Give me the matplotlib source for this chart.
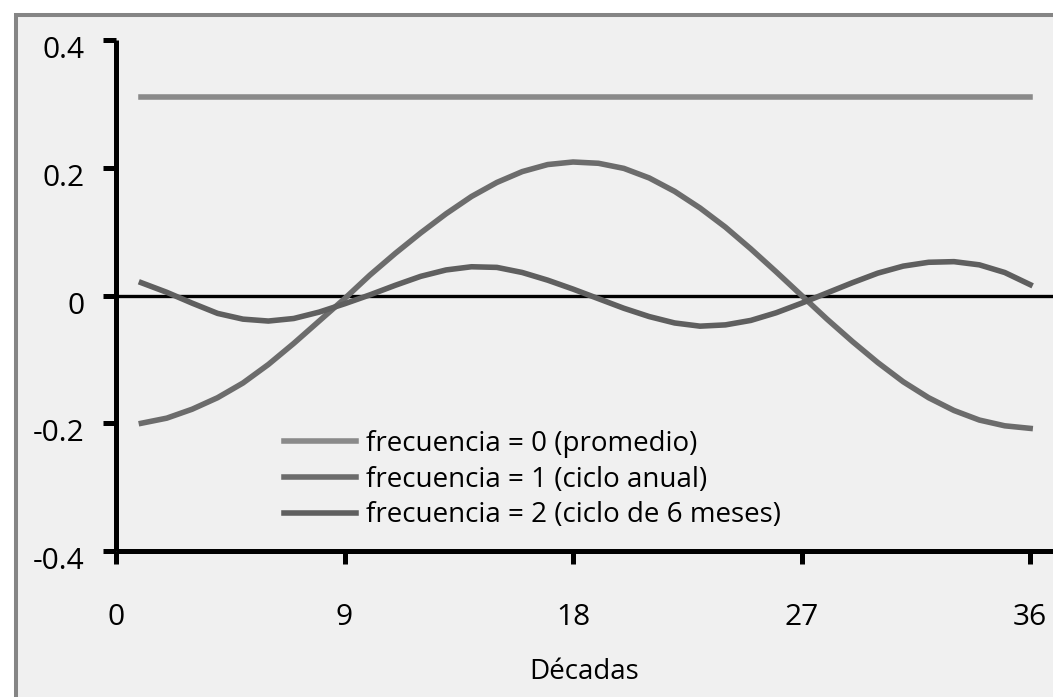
import matplotlib.pyplot as plt
from matplotlib.patches import Rectangle
from matplotlib.transforms import ScaledTranslation

# decades 1..36
decadas = list(range(1, 37))

frec0 = [0.311] * 36

frec1 = [-0.200, -0.192, -0.178, -0.160, -0.137, -0.108, -0.075, -0.040, -0.005,
         0.032, 0.066, 0.098, 0.128, 0.155, 0.177, 0.194, 0.205, 0.209,
         0.207, 0.199, 0.184, 0.163, 0.137, 0.107, 0.073, 0.037, 0.000,
         -0.037, -0.072, -0.105, -0.135, -0.160, -0.180, -0.195, -0.204, -0.208]

frec2 = [0.020, 0.005, -0.012, -0.028, -0.037, -0.040, -0.036, -0.026, -0.013,
         0.001, 0.016, 0.030, 0.040, 0.045, 0.044, 0.036, 0.024, 0.010,
         -0.005, -0.020, -0.033, -0.043, -0.048, -0.046, -0.039, -0.027, -0.012,
         0.004, 0.020, 0.035, 0.046, 0.052, 0.053, 0.048, 0.036, 0.017]

etiquetas = ['frecuencia = 0 (promedio)',
             'frecuencia = 1 (ciclo anual)',
             'frecuencia = 2 (ciclo de 6 meses)']

xticks = [0, 9, 18, 27, 36]
yticks = [-0.4, -0.2, 0, 0.2, 0.4]
yticklabels = ['-0.4', '-0.2', '0', '0.2', '0.4']

plt.rcParams['font.family'] = ['Open Sans', 'DejaVu Sans']

fig = plt.figure(figsize=(10.53, 6.97), dpi=100)
fig.patch.set_facecolor('white')

# grey panel with frame on left and top
W, H = 1053, 697
panel = Rectangle((16 / W, -0.05), 1.1, (H - 15) / H + 0.05,
                  transform=fig.transFigure, facecolor='#f0f0f0',
                  edgecolor='#858585', linewidth=2.9, zorder=-10)
fig.patches.append(panel)

ax = fig.add_axes([116 / W, (H - 551) / H, 1 - 116 / W, (551 - 40) / H])
ax.set_facecolor('none')

ax.axhline(0, color='black', lw=2.4, zorder=1)
ax.plot(decadas, frec0, color='#8a8a8a', lw=4.0, label=etiquetas[0], zorder=3)
ax.plot(decadas, frec1, color='#6c6c6c', lw=4.0, label=etiquetas[1], zorder=3)
ax.plot(decadas, frec2, color='#5f5f5f', lw=4.0, label=etiquetas[2], zorder=3)

for line in ax.get_lines():
    line.set_clip_on(False)
    line.set_solid_joinstyle('round')

ax.set_xlim(0, 36.9)
ax.set_ylim(-0.4, 0.4)
ax.set_xticks(xticks)
ax.set_yticks(yticks)
ax.set_yticklabels(yticklabels)

for s in ['top', 'right']:
    ax.spines[s].set_visible(False)
for s in ['left', 'bottom']:
    ax.spines[s].set_linewidth(3.6)
    ax.spines[s].set_capstyle('butt')

ax.tick_params(axis='both', width=3.6, length=9.5, labelsize=21.5, colors='black')
ax.tick_params(axis='x', pad=28)
ax.tick_params(axis='y', pad=13)

# y labels sit a little below their ticks
off = ScaledTranslation(0, -0.07, fig.dpi_scale_trans)
for lab in ax.get_yticklabels():
    lab.set_transform(lab.get_transform() + off)

ax.set_xlabel('Décadas', fontsize=20, labelpad=19)

ax.legend(loc='upper left', bbox_to_anchor=(0.179, 0.237), frameon=False,
          fontsize=20, handlelength=2.6, handletextpad=0.36,
          labelspacing=0.28, borderpad=0, borderaxespad=0)

fig.savefig('out.png', dpi=100)
